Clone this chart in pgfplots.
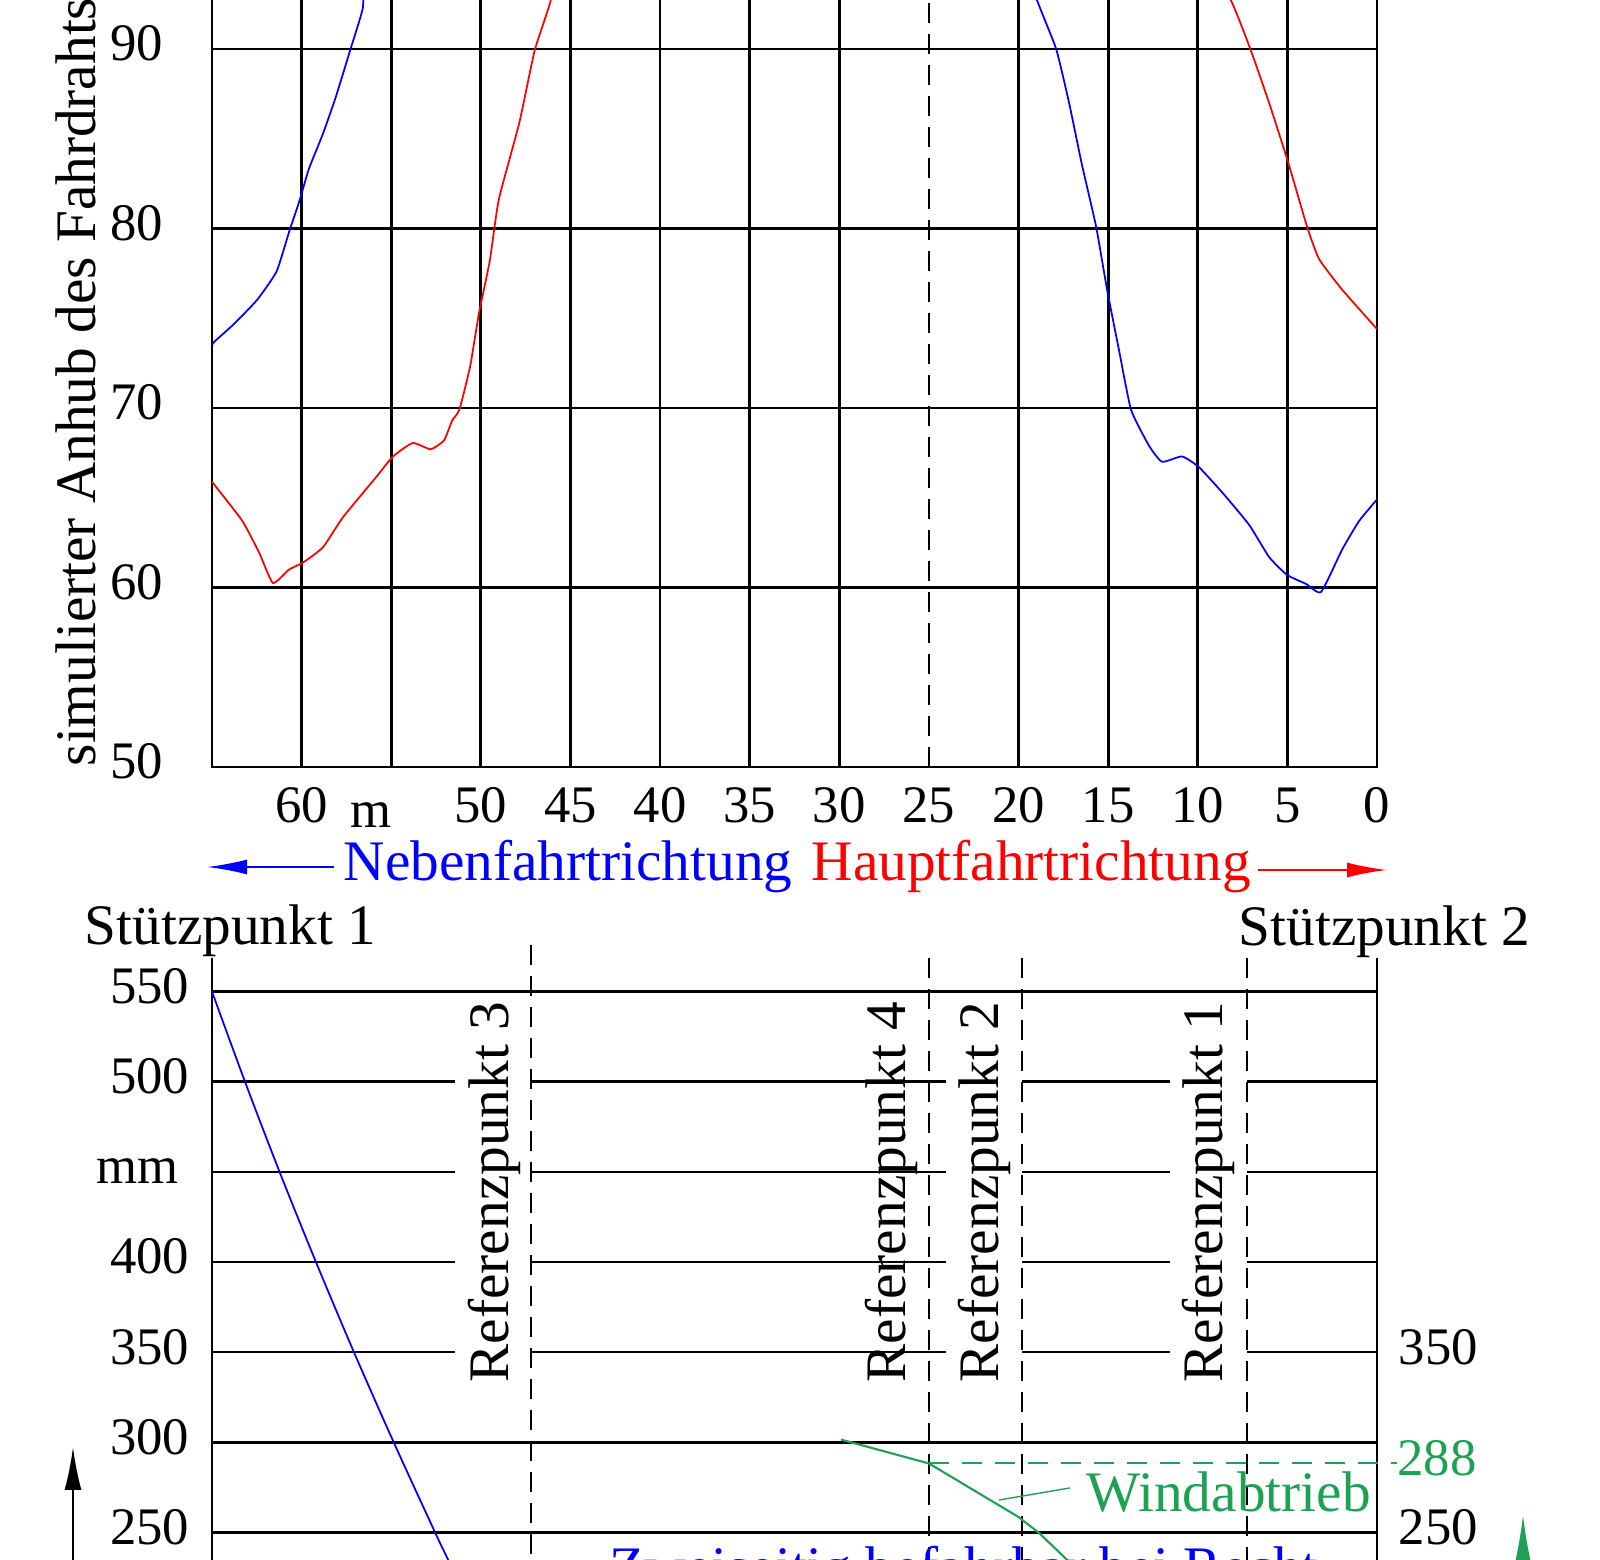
\documentclass[border=0pt]{standalone}
\usepackage{fontspec}
\setmainfont{Liberation Serif}
\usepackage{pgfplots}
\pgfplotsset{compat=1.18}
\usetikzlibrary{arrows.meta}
\definecolor{mygreen}{RGB}{30,160,85}
\newcommand{\tickfont}{\fontsize{15}{18}\selectfont}
\newcommand{\txtfont}{\fontsize{16.3}{19.5}\selectfont}
\begin{document}
\begin{tikzpicture}
\useasboundingbox (0,0) rectangle (160mm,156mm);
\clip (0,0) rectangle (160mm,156mm);

% ---------------- upper chart ----------------
\begin{axis}[
  at={(21.2mm,79.3mm)}, anchor=south west, scale only axis,
  width=116.5mm, height=78.08mm,
  xmin=0, xmax=65, x dir=reverse, ymin=50, ymax=93.5,
  xtick={0,5,10,15,20,30,35,40,45,50,55,60},
  xticklabels={0,5,10,15,20,30,35,40,45,50,{\raisebox{-0.5mm}{\makebox[0pt][r]{m}}},60},
  extra x ticks={25}, extra x tick labels={25},
  extra x tick style={xmajorgrids=true, major grid style={black, line width=0.8pt, dash pattern=on 2mm off 1.1mm}},
  ytick={50,60,70,80,90}, yticklabels={50,60,70,80,90},
  xmajorgrids, ymajorgrids,
  major grid style={black, line width=0.8pt},
  axis line style={black, line width=0.8pt},
  major tick length=0pt,
  xticklabel style={font=\tickfont, anchor=base, inner sep=0pt, yshift=-5.6mm},
  yticklabel style={font=\tickfont, anchor=east, inner sep=0pt, xshift=-4.8mm, text height=0.68em, text depth=0pt},
]
\addplot[red, line width=0.5pt, smooth, tension=0.3] coordinates {
(65.0,65.9)(64.77,65.6)(63.3,63.7)(62.35,61.9)(61.6,60.25)(60.7,61.0)(59.9,61.4)
(58.8,62.25)(57.7,63.9)(55.8,66.2)(54.9,67.3)(53.8,68.05)(52.8,67.7)(52.05,68.2)
(51.6,69.3)(51.2,69.9)(50.6,72.3)(50.1,75.3)(49.5,78.2)(49.0,81.6)(47.85,85.9)
(47.0,89.9)(46.1,92.7)(44.5,99)(30,112)(12,101)(8.14,92.7)(7.03,89.9)(6.02,87.0)
(4.96,83.7)(3.90,80.1)(3.23,78.3)(1.95,76.6)(0,74.4)};
\addplot[blue, line width=0.5pt, smooth, tension=0.3] coordinates {
(65.0,73.5)(64.86,73.7)(63.86,74.6)(62.5,76.0)(61.4,77.6)(60.7,79.8)(60.1,81.6)
(59.6,83.3)(58.8,85.3)(58.1,87.3)(57.3,89.9)(56.6,92.2)(55.5,97)(40,115)(22,101)
(18.96,92.7)(17.9,90.0)(17.18,87.0)(16.45,83.5)(15.67,80.1)(15.06,76.6)(14.39,73.2)
(13.72,69.9)(12.72,67.9)(11.99,67.0)(10.88,67.3)(9.93,66.7)(8.64,65.3)(7.14,63.5)
(6.02,61.7)(5.02,60.7)(3.96,60.2)(3.12,59.75)(1.95,62.1)(1.0,63.7)(0,64.9)};
\end{axis}

% ---------------- lower chart ----------------
\begin{axis}[
  at={(21.2mm,-2.66mm)}, anchor=south west, scale only axis,
  width=116.5mm, height=59.51mm,
  xmin=0, xmax=65, x dir=reverse, ymin=220, ymax=550, clip=false,
  xtick=\empty,
  ytick={250,300,350,400,450,500,550},
  yticklabels={250,300,350,400,{mm\hspace*{1.1mm}},500,550},
  ymajorgrids, major grid style={black, line width=0.7pt},
  axis line style={black, line width=0.8pt},
  major tick length=0pt,
  yticklabel style={font=\tickfont, anchor=east, inner sep=0pt, xshift=-2.2mm, text height=0.68em, text depth=0pt},
]
\fill[white] (axis cs:51.44,547.5) rectangle (axis cs:47.2,323.5);
\fill[white] (axis cs:24.05,547.5) rectangle (axis cs:19.81,323.5);
\fill[white] (axis cs:11.55,547.5) rectangle (axis cs:7.25,323.5);
\node[rotate=90, anchor=base west, inner sep=0pt, font=\txtfont] at (axis cs:48.43,332.9) {Referenzpunkt 3};
\node[rotate=90, anchor=base west, inner sep=0pt, font=\txtfont] at (axis cs:26.28,332.9) {Referenzpunkt 4};
\node[rotate=90, anchor=base west, inner sep=0pt, font=\txtfont] at (axis cs:21.09,332.9) {Referenzpunkt 2};
\node[rotate=90, anchor=base west, inner sep=0pt, font=\txtfont] at (axis cs:8.61,332.9) {Referenzpunkt 1};
\draw[black, line width=0.7pt, dash pattern=on 2mm off 1.1mm] (axis cs:47.2,575.8) -- (axis cs:47.2,200);
\draw[black, line width=0.7pt, dash pattern=on 2mm off 1.1mm] (axis cs:25,568.6) -- (axis cs:25,200);
\draw[black, line width=0.7pt, dash pattern=on 2mm off 1.1mm] (axis cs:19.8,568.6) -- (axis cs:19.8,200);
\draw[black, line width=0.7pt, dash pattern=on 2mm off 1.1mm] (axis cs:7.25,568.6) -- (axis cs:7.25,200);
\draw[black, line width=0.8pt] (axis cs:65,550) -- (axis cs:65,568.6);
\draw[black, line width=0.8pt] (axis cs:0,550) -- (axis cs:0,568.6);
\addplot[blue, line width=0.5pt, smooth] coordinates {
(65,550)(63.16,500)(61.23,450)(59.2,400)(57.08,350)(54.86,300)(52.55,250)(51.83,235)(51.3,224)};
\addplot[mygreen, line width=0.6pt] coordinates {
(29.9,301.5)(25,288.3)(20,258.6)(18.85,249.7)(17.1,233)(16.5,227)};
\draw[mygreen, line width=0.6pt, dash pattern=on 2mm off 1.3mm] (axis cs:25,288.3) -- (axis cs:-1.1,288.3);
\node[anchor=west, inner sep=0pt, font=\tickfont, text=mygreen, text height=0.68em, text depth=0pt] at (axis cs:-1.1,288.3) {288};
\node[anchor=west, inner sep=0pt, font=\tickfont, text height=0.68em, text depth=0pt] at (axis cs:-1.17,350) {350};
\node[anchor=west, inner sep=0pt, font=\tickfont, text height=0.68em, text depth=0pt] at (axis cs:-1.17,250) {250};
\node[anchor=base west, inner sep=0pt, font=\txtfont, text=mygreen] at (axis cs:16.24,261.4) {Windabtrieb};
\draw[mygreen, line width=0.4pt] (axis cs:17.13,274.7) -- (axis cs:21.09,268.0);
\node[anchor=base west, inner sep=0pt, font=\txtfont, text=blue] at (axis cs:42.85,219.8) {Zweiseitig befahrbar bei Recht};
\end{axis}

% ---------------- annotations ----------------
\node[rotate=90, anchor=base west, inner sep=0pt, font=\txtfont] at (9.5mm,79.3mm) {simulierter Anhub des Fahrdrahts};
\draw[blue, line width=0.6pt, -{Latex[length=4mm,width=1.5mm]}] (33.4mm,69.3mm) -- (20.7mm,69.3mm);
\draw[red, line width=0.6pt, -{Latex[length=4mm,width=1.5mm]}] (125.8mm,69.0mm) -- (138.7mm,69.0mm);
\node[anchor=base west, inner sep=0pt, font=\txtfont, text=blue] at (34.3mm,67.9mm) {Nebenfahrtrichtung};
\node[anchor=base west, inner sep=0pt, font=\txtfont, text=red] at (81.1mm,67.9mm) {Hauptfahrtrichtung};
\node[anchor=base west, inner sep=0pt, font=\txtfont] at (8.4mm,61.5mm) {Stützpunkt 1};
\node[anchor=base west, inner sep=0pt, font=\txtfont] at (123.8mm,61.4mm) {Stützpunkt 2};
\draw[black, line width=0.6pt, -{Latex[length=4.3mm,width=1.7mm]}] (7.3mm,-3mm) -- (7.3mm,11.3mm);
\draw[mygreen, line width=0.8pt, -{Latex[length=6mm,width=2.2mm]}] (152.3mm,-8mm) -- (152.3mm,4.5mm);
\end{tikzpicture}
\end{document}
